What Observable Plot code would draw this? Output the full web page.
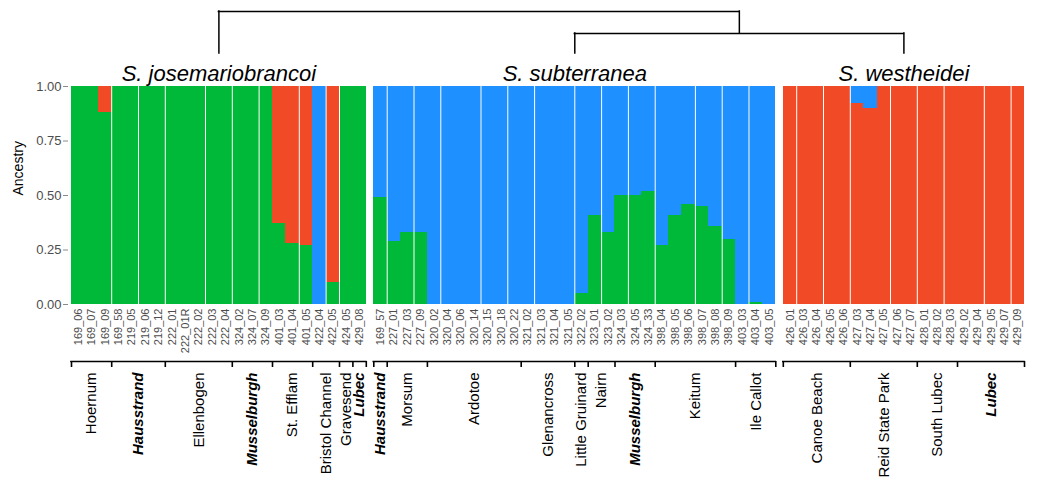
<!DOCTYPE html>
<html>
<head>
<meta charset="utf-8">
<script src="https://cdn.jsdelivr.net/npm/d3@7"></script>
<script src="https://cdn.jsdelivr.net/npm/@observablehq/plot@0.6"></script>
<style>
  body { margin: 0; background: white; }
  g[aria-label="y-axis tick"] path { stroke: #8a8a8a; }
</style>
</head>
<body>
<div id="chart"></div>
<script>
// ---- data ----
const species = ["S. josemariobrancoi", "S. subterranea", "S. westheidei"];
const clusterNames = ["K1", "K2", "K3"];
const clusterColors = ["#00B938", "#F04B26", "#1E90FF"];

const samplesJ = ["169_06","169_07","169_09","169_58","219_05","219_06","219_12","222_01","222_01R","222_02","222_03","222_04","324_02","324_07","324_09","401_03","401_04","401_05","422_04","422_05","424_05","429_08"];
const k1J = [1,1,0.88,1,1,1,1,1,1,1,1,1,1,1,1,0.37,0.28,0.27,0,0.10,1,1];
const k2J = [0,0,0.12,0,0,0,0,0,0,0,0,0,0,0,0,0.63,0.72,0.73,0,0.90,0,0];
const k3J = [0,0,0,0,0,0,0,0,0,0,0,0,0,0,0,0,0,0,1,0,0,0];

const samplesS = ["169_57","227_01","227_03","227_09","320_02","320_04","320_06","320_14","320_15","320_18","320_22","321_02","321_03","321_04","321_05","322_02","323_01","323_02","324_03","324_05","324_33","398_04","398_05","398_06","398_07","398_08","398_09","403_03","403_04","403_05"];
const k1S = [0.49,0.29,0.33,0.33,0,0,0,0,0,0,0,0,0,0,0,0.05,0.41,0.33,0.50,0.50,0.52,0.27,0.41,0.46,0.45,0.36,0.30,0,0.01,0];
const k2S = [0,0,0,0,0,0,0,0,0,0,0,0,0,0,0,0,0,0,0,0,0,0,0,0,0,0,0,0,0,0];
const k3S = [0.51,0.71,0.67,0.67,1,1,1,1,1,1,1,1,1,1,1,0.95,0.59,0.67,0.50,0.50,0.48,0.73,0.59,0.54,0.55,0.64,0.70,1,0.99,1];

const samplesW = ["426_01","426_03","426_04","426_05","426_06","427_03","427_04","427_05","427_06","427_07","428_01","428_02","428_03","429_02","429_04","429_05","429_07","429_09"];
const k1W = [0,0,0,0,0,0,0,0,0,0,0,0,0,0,0,0,0,0];
const k2W = [1,1,1,1,1,0.92,0.90,1,1,1,1,1,1,1,1,1,1,1];
const k3W = [0,0,0,0,0,0.08,0.10,0,0,0,0,0,0,0,0,0,0,0];

const popsJ = ["Hoernum","Hausstrand","Ellenbogen","Musselburgh","St. Efflam","Bristol Channel","Gravesend","Lubec"];
const popSizesJ = [3,4,5,3,3,2,1,1];
const popsS = ["Hausstrand","Morsum","Ardotoe","Glenancross","Little Gruinard","Nairn","Musselburgh","Keitum","Ile Callot"];
const popSizesS = [1,3,7,4,1,2,3,6,3];
const popsW = ["Canoe Beach","Reid State Park","South Lubec","Lubec"];
const popSizesW = [5,5,3,5];
const boldPops = ["Hausstrand","Musselburgh","Lubec"];

// bar boundaries that show a thin white seam in the original rendering
const seams = ["169_09","219_05","219_12","222_02","222_04","324_07","401_04","422_04","422_05",
  "169_57","227_03","320_02","320_14","320_18","321_02","321_05","323_01","324_03","324_33","398_06","398_08","403_03",
  "426_01","426_04","426_06","427_05","427_07","428_02","429_04","429_07"];

const yTicks = [0, 0.25, 0.5, 0.75, 1];

// ---- layout ----
const GAP = 0.56;             // gap between species panels, in bar widths
const Y0 = 304, Y1 = 86;      // pixel rows of ancestry 0 and 1
const yAt = px => (Y0 - px) / (Y0 - Y1);   // pixel row -> y units (for annotations)

const panels = [
  {name: species[0], samples: samplesJ, k: [k1J, k2J, k3J], pops: popsJ, sizes: popSizesJ},
  {name: species[1], samples: samplesS, k: [k1S, k2S, k3S], pops: popsS, sizes: popSizesS},
  {name: species[2], samples: samplesW, k: [k1W, k2W, k3W], pops: popsW, sizes: popSizesW}
];

const bars = [], labels = [], popRows = [], panelRows = [], bounds = [];
const posOf = new Map();
let idx = 0;
panels.forEach((p, pi) => {
  const start = idx + pi * GAP;
  p.samples.forEach((s, i) => {
    const x = start + i;
    posOf.set(s, x);
    labels.push({sample: s, x: x + 0.5});
    let y = 0;
    clusterNames.forEach((c, ci) => {
      const v = p.k[ci][i];
      if (v > 0) bars.push({sample: s, cluster: c, x1: x, x2: x + 1, y1: y, y2: y + v});
      y += v;
    });
  });
  let pos = start;
  bounds.push(pos);
  p.pops.forEach((name, j) => {
    popRows.push({name, x: pos + p.sizes[j] / 2, bold: boldPops.includes(name)});
    pos += p.sizes[j];
    bounds.push(pos);
  });
  panelRows.push({name: p.name, x1: start, x2: start + p.samples.length, x: start + p.samples.length / 2});
  idx += p.samples.length;
});
const D = idx + (panels.length - 1) * GAP;

// dendrogram: ((subterranea, westheidei), josemariobrancoi)
const legs = panelRows.map(d => d.x);
const inner = (legs[1] + legs[2]) / 2;
const treeH = [
  {x1: legs[0], x2: inner, y: yAt(11)},
  {x1: legs[1], x2: legs[2], y: yAt(33)}
];
const treeV = [
  {x: legs[0], y1: yAt(11), y2: yAt(53)},
  {x: inner, y1: yAt(11), y2: yAt(33)},
  {x: legs[1], y1: yAt(33), y2: yAt(53)},
  {x: legs[2], y1: yAt(33), y2: yAt(53)}
];

const chart = Plot.plot({
  width: 1037,
  height: 478,
  marginLeft: 71,
  marginRight: 13,
  marginTop: Y1,
  marginBottom: 478 - Y0,
  style: {fontFamily: "'Liberation Sans', Arial, Helvetica, sans-serif", background: "white", overflow: "visible"},
  x: {domain: [0, D], axis: null},
  y: {domain: [0, 1]},
  color: {domain: clusterNames, range: clusterColors},
  marks: [
    Plot.rectY(bars, {x1: "x1", x2: "x2", y1: "y1", y2: "y2", fill: "cluster", shapeRendering: "crispEdges"}),
    Plot.ruleX(seams, {x: d => posOf.get(d) + 1, y1: 0, y2: 1, stroke: "white", strokeWidth: 1}),
    Plot.axisY({ticks: yTicks, tickFormat: d3.format(".2f"), tickSize: 5, tickPadding: 2, fontSize: 13, label: null, dx: -3, color: "#4d4d4d"}),
    Plot.text(["Ancestry"], {text: d => d, frameAnchor: "left", rotate: -90, dx: -53, fontSize: 14, fill: "black"}),
    Plot.text(panelRows, {x: "x", y: 1, dy: -6, text: "name", fontSize: 22, fontStyle: "italic", lineAnchor: "bottom", fill: "black"}),
    Plot.text(labels, {x: "x", y: 0, dy: 4, text: "sample", rotate: -90, textAnchor: "end", lineAnchor: "middle", fontSize: 11, fill: "#4d4d4d"}),
    Plot.ruleY(panelRows, {y: yAt(361), x1: "x1", x2: "x2", stroke: "black", strokeWidth: 1.6, strokeLinecap: "square"}),
    Plot.ruleX(bounds, {x: d => d, y1: yAt(361), y2: yAt(367), stroke: "black", strokeWidth: 1.6}),
    Plot.text(popRows.filter(d => !d.bold), {x: "x", y: 0, dy: 68, text: "name", rotate: -90, textAnchor: "end", lineAnchor: "middle", fontSize: 15, fill: "black"}),
    Plot.text(popRows.filter(d => d.bold), {x: "x", y: 0, dy: 68, text: "name", rotate: -90, textAnchor: "end", lineAnchor: "middle", fontSize: 15, fontWeight: "bold", fontStyle: "italic", fill: "black"}),
    Plot.ruleY(treeH, {y: "y", x1: "x1", x2: "x2", stroke: "black", strokeWidth: 1.5, strokeLinecap: "square"}),
    Plot.ruleX(treeV, {x: "x", y1: "y1", y2: "y2", stroke: "black", strokeWidth: 1.5, strokeLinecap: "square"})
  ]
});
document.getElementById("chart").appendChild(chart);
</script>
</body>
</html>
